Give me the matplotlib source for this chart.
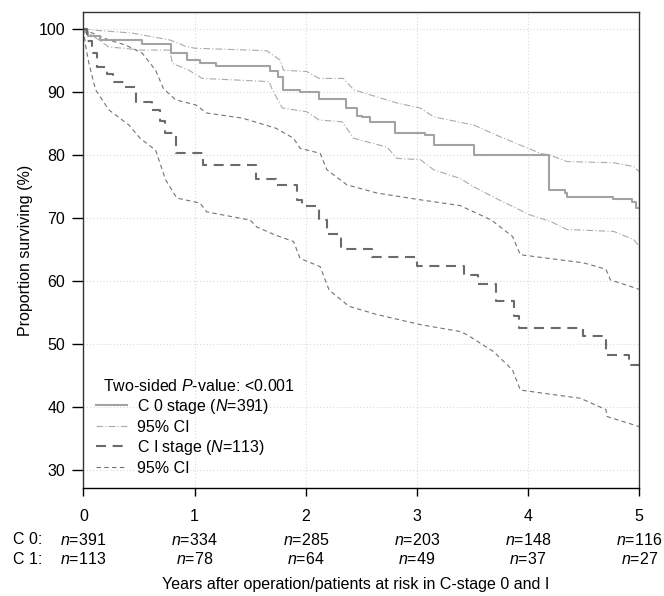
import matplotlib
matplotlib.use("Agg")
import matplotlib.pyplot as plt
from matplotlib.lines import Line2D
from matplotlib.transforms import blended_transform_factory

plt.rcParams['font.family'] = ['Liberation Sans', 'DejaVu Sans']
plt.rcParams['mathtext.fontset'] = 'custom'
plt.rcParams['mathtext.it'] = 'Liberation Sans:italic'
plt.rcParams['mathtext.rm'] = 'Liberation Sans'

# ---- data ----
c0_t = [0, 0.01, 0.04, 0.15, 0.53, 0.79, 0.93, 1.05, 1.19, 1.68, 1.75, 1.80, 1.95, 2.12, 2.36, 2.46,
        2.51, 2.58, 2.80, 3.07, 3.15, 3.51, 4.19, 4.33, 4.35, 4.76, 4.93, 4.97, 5.0]
c0_v = [100, 99.5, 98.9, 98.3, 97.6, 96.3, 95.2, 94.6, 94.2, 93.3, 92.5, 90.4, 90.0, 88.9, 87.5, 86.3,
        86.0, 85.2, 83.6, 83.2, 81.7, 80.0, 74.5, 74.0, 73.3, 73.1, 72.6, 71.6, 71.6]

c0_hi_t = [0, 0.44, 0.50, 0.78, 0.92, 1.00, 1.65, 1.77, 1.80, 2.01, 2.12, 2.34, 2.43, 2.82, 3.03, 3.15,
           3.51, 3.74, 4.11, 4.20, 4.35, 4.77, 4.95, 5.0]
c0_hi_v = [100, 99.4, 99.2, 98.3, 97.3, 97.0, 96.6, 95.1, 93.5, 93.3, 92.2, 92.2, 90.4, 88.3, 87.5, 86.1,
           84.8, 83.0, 80.3, 80.0, 79.0, 78.8, 78.2, 77.4]

c0_lo_t = [0, 0.23, 0.53, 0.78, 0.80, 0.95, 1.07, 1.67, 1.70, 1.79, 2.01, 2.12, 2.33, 2.43, 2.73, 2.82,
           3.03, 3.15, 3.39, 3.51, 3.74, 4.02, 4.20, 4.35, 4.77, 4.95, 5.0]
c0_lo_v = [100, 97.2, 96.7, 96.7, 94.6, 93.5, 92.2, 91.7, 90.4, 87.5, 86.9, 85.6, 85.3, 82.7, 81.3, 79.5,
           79.3, 77.7, 76.3, 75.0, 72.9, 70.5, 69.5, 68.2, 67.9, 66.6, 65.5]

c1_t = [0, 0.03, 0.08, 0.12, 0.21, 0.27, 0.37, 0.47, 0.62, 0.69, 0.73, 0.83, 1.08, 1.55, 1.73, 1.92,
        1.97, 2.12, 2.19, 2.32, 2.60, 3.00, 3.42, 3.55, 3.71, 3.87, 3.92, 4.49, 4.70, 4.91, 5.0]
c1_v = [100, 98.2, 96.3, 94.0, 92.9, 91.7, 90.8, 88.5, 87.2, 85.4, 83.5, 80.4, 78.5, 76.2, 75.3, 72.9,
        72.0, 69.7, 67.5, 65.1, 63.8, 62.4, 61.0, 59.6, 56.8, 54.4, 52.5, 51.3, 48.3, 46.7, 46.7]

c1_hi_t = [0, 0.23, 0.38, 0.53, 0.65, 0.72, 0.83, 1.01, 1.11, 1.43, 1.58, 1.73, 1.89, 1.95, 2.13, 2.19,
           2.37, 2.64, 3.00, 3.39, 3.67, 3.86, 3.93, 4.50, 4.70, 4.74, 5.0]
c1_hi_v = [100, 98.3, 97.5, 96.2, 93.5, 90.6, 88.8, 88.0, 86.7, 85.9, 85.1, 84.3, 82.7, 81.1, 80.3, 77.7,
           75.3, 74.0, 73.0, 72.0, 69.7, 67.1, 64.2, 62.9, 61.9, 60.2, 58.7]

c1_lo_t = [0, 0.02, 0.05, 0.11, 0.23, 0.41, 0.51, 0.65, 0.74, 0.84, 1.05, 1.11, 1.50, 1.56, 1.73, 1.89,
           1.95, 2.13, 2.21, 2.39, 2.64, 3.03, 3.39, 3.45, 3.69, 3.86, 3.93, 4.47, 4.70, 4.71, 5.0]
c1_lo_v = [100, 97.5, 94.6, 90.4, 87.2, 84.8, 82.7, 80.8, 76.1, 73.2, 72.4, 71.0, 69.7, 68.6, 67.3, 66.3,
           63.6, 62.3, 58.6, 56.0, 54.7, 53.1, 52.0, 51.5, 48.8, 45.9, 42.7, 41.4, 39.6, 38.5, 36.9]

years = [0, 1, 2, 3, 4, 5]
risk_c0 = [391, 334, 285, 203, 148, 116]
risk_c1 = [113, 78, 64, 49, 37, 27]
yticks = [30, 40, 50, 60, 70, 80, 90, 100]

FS = 11.5

# ---- figure ----
fig = plt.figure(figsize=(6.64, 5.96), dpi=100)
ax = fig.add_axes([0.1255, 0.1807, 0.9628 - 0.1255, 0.9804 - 0.1807])
ax.set_xlim(0, 5)
ax.set_ylim(27.1, 102.8)

gc = '#d9d9d9'
for y in yticks:
    ax.axhline(y, color=gc, lw=0.8, ls=(0, (1, 2)), zorder=0)
for x in years:
    ax.axvline(x, color=gc, lw=0.8, ls=(0, (1, 2)), zorder=0)

col0 = '#a3a3a3'
col1 = '#6b6b6b'
ci0 = '#ababab'
ci1 = '#737373'
ls0ci = (0, (6, 2, 1, 2))
ls1ci = (0, (4, 3))
ls1 = (0, (4.8, 3.2))
ax.plot(c0_hi_t, c0_hi_v, color=ci0, lw=0.8, ls=ls0ci)
ax.plot(c0_lo_t, c0_lo_v, color=ci0, lw=0.8, ls=ls0ci)
ax.plot(c1_hi_t, c1_hi_v, color=ci1, lw=0.8, ls=ls1ci)
ax.plot(c1_lo_t, c1_lo_v, color=ci1, lw=0.8, ls=ls1ci)
ax.plot(c0_t, c0_v, color=col0, lw=1.5, drawstyle='steps-post')
ax.plot(c1_t, c1_v, color=col1, lw=1.5, drawstyle='steps-post', ls=ls1)

for s in ['left', 'right']:
    ax.spines[s].set_linestyle((0, (1, 1)))
    ax.spines[s].set_color('#333333')
    ax.spines[s].set_linewidth(1.0)
ax.spines['top'].set_color('#333333')
ax.spines['top'].set_linewidth(1.0)
ax.spines['bottom'].set_linewidth(1.0)

ax.set_yticks(yticks)
ax.set_xticks(years)
ax.tick_params(axis='y', length=8, width=1, pad=5, labelsize=FS)
ax.tick_params(axis='x', length=6, width=1, pad=9, labelsize=FS)
ax.set_ylabel('Proportion surviving (%)', fontsize=FS, labelpad=4)

# legend
fig.text(103 / 664, 1 - 386 / 596, 'Two-sided $P$-value: <0.001', fontsize=FS, va='center', ha='left')
handles = [
    Line2D([], [], color=col0, lw=1.5),
    Line2D([], [], color=ci0, lw=0.8, ls=ls0ci),
    Line2D([], [], color=col1, lw=1.5, ls=ls1),
    Line2D([], [], color=ci1, lw=0.8, ls=ls1ci),
]
labels = ['C 0 stage ($N$=391)', '95% CI', 'C I stage ($N$=113)', '95% CI']
ax.legend(handles, labels, loc='upper left', bbox_to_anchor=(96 / 664, 1 - 397 / 596),
          bbox_transform=fig.transFigure, frameon=False, fontsize=FS,
          handlelength=1.95, handletextpad=0.6, labelspacing=0.22, borderpad=0, borderaxespad=0)

# at-risk table
tr = blended_transform_factory(ax.transData, fig.transFigure)
fig.text(13 / 664, 1 - 540 / 596, 'C 0:', fontsize=FS, va='center', ha='left')
fig.text(13 / 664, 1 - 559 / 596, 'C 1:', fontsize=FS, va='center', ha='left')
for x, a, b in zip(years, risk_c0, risk_c1):
    ax.text(x, 1 - 540 / 596, f'$n$={a}', transform=tr, fontsize=FS, va='center', ha='center')
    ax.text(x, 1 - 559 / 596, f'$n$={b}', transform=tr, fontsize=FS, va='center', ha='center')

ax.text(2.45, 1 - 584 / 596, 'Years after operation/patients at risk in C-stage 0 and I', transform=tr,
        fontsize=FS, va='center', ha='center')

fig.savefig('out.png', dpi=100)
